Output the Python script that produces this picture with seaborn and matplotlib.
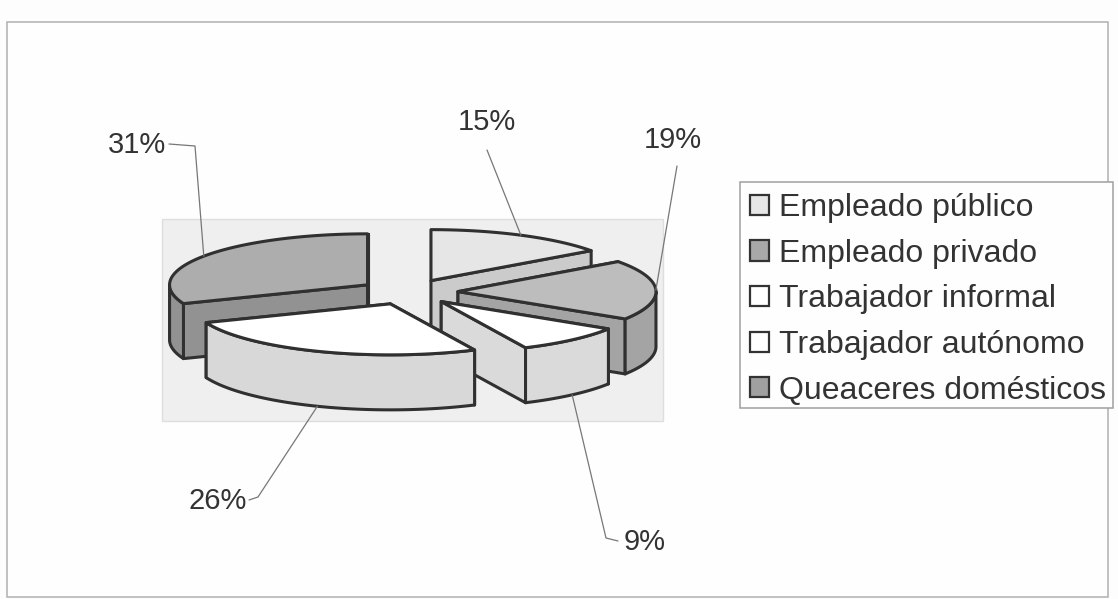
import numpy as np
import pandas as pd
import matplotlib
matplotlib.use("Agg")
import matplotlib.pyplot as plt
from matplotlib.patches import Patch, Rectangle
import seaborn as sns

# Chart values
categories = ['Empleado público', 'Empleado privado', 'Trabajador informal',
              'Trabajador autónomo', 'Queaceres domésticos']
shares = [15, 19, 9, 26, 31]

# Colours of each slice
top_colors = ['#e6e6e6', '#bdbdbd', '#ffffff', '#ffffff', '#adadad']
side_colors = ['#cbcbcb', '#a4a4a4', '#dadada', '#d8d8d8', '#929292']

# Where the percent labels sit (pixels) and how each leader line leaves them
label_x = [487, 673, 645, 218, 137]
label_y = [122, 140, 542, 501, 145]
leader_x = [487, 677, 606, 258, 195]
leader_y = [150, 166, 538, 497, 146]
leader_start_x = [487, 677, 618, 249, 169]
leader_start_y = [150, 166, 541, 500, 144]

df = pd.DataFrame({'category': categories, 'share': shares})

sns.set_theme(style="white")
plt.rcParams['font.family'] = ['Liberation Sans', 'DejaVu Sans']

# Geometry of the tilted pie
center_x, center_y = 408.5, 292
rx, ry = 198, 51
depth = 55
explode = 0.25
edge = '#303030'

fig, ax = plt.subplots(figsize=(11.18, 5.99), dpi=100)
fig.patch.set_facecolor('#fdfdfd')
ax.set_position([0, 0, 1, 1])
ax.set_xlim(0, 1118)
ax.set_ylim(599, 0)
ax.axis('off')

# Chart frame, plot wall and legend box
ax.add_patch(Rectangle((7, 22), 1101, 575, fc='#fefefe', ec='#b0b0b0', lw=1.1))
ax.add_patch(Rectangle((162, 219), 501, 202, fc='#efefef', ec='#dedede', lw=1))
ax.add_patch(Rectangle((740, 182), 373, 226, fc='#fefefe', ec='#a0a0a0', lw=1.1, zorder=3))


def rim(theta, apex_x, apex_y):
    # theta is clockwise from 12 o'clock
    return apex_x + rx * np.sin(theta), apex_y - ry * np.cos(theta)


def face(xs, ys, color, lw=2.2):
    ax.fill(xs, ys, facecolor=color, edgecolor=edge, linewidth=lw, joinstyle='round')


df['end'] = df['share'].cumsum() / df['share'].sum() * 2 * np.pi
df['start'] = df['end'].shift(fill_value=0.0)
df['mid'] = (df['start'] + df['end']) / 2
df['apex_x'] = center_x + explode * rx * np.sin(df['mid'])
df['apex_y'] = center_y - explode * ry * np.cos(df['mid'])

# Back to front, the informal slice goes behind the autonomo one
for i in [4, 0, 1, 2, 3]:
    row = df.iloc[i]
    ax_, ay_ = row['apex_x'], row['apex_y']

    # radial walls
    for t in (row['start'], row['end']):
        px, py = rim(t, ax_, ay_)
        face([ax_, px, px, ax_], [ay_, py, py + depth, ay_ + depth], side_colors[i])

    # outer wall, only the part that faces the viewer
    lo = max(row['start'], np.pi / 2)
    hi = min(row['end'], 3 * np.pi / 2)
    if hi > lo:
        t = np.linspace(lo, hi, 60)
        px, py = rim(t, ax_, ay_)
        face(np.r_[px, px[::-1]], np.r_[py, py[::-1] + depth], side_colors[i])

    # top
    t = np.linspace(row['start'], row['end'], 80)
    px, py = rim(t, ax_, ay_)
    face(np.r_[ax_, px], np.r_[ay_, py], top_colors[i])

# Leader lines and percent labels
for i, row in df.iterrows():
    px, py = rim(row['mid'], row['apex_x'], row['apex_y'])
    if np.cos(row['mid']) < -0.1:
        py = py + depth
    ax.plot([leader_start_x[i], leader_x[i], px], [leader_start_y[i], leader_y[i], py],
            color='#777777', lw=0.9, solid_joinstyle='round')
    ax.text(label_x[i], label_y[i], f"{row['share']}%", ha='center', va='center',
            fontsize=21, color='#333333')

handles = [Patch(facecolor=c, edgecolor='#333333', linewidth=1.6) for c in
           ['#e6e6e6', '#a8a8a8', '#ffffff', '#ffffff', '#a0a0a0']]
ax.legend(handles, categories, loc='upper left', bbox_to_anchor=(742, 185),
          bbox_transform=ax.transData, borderaxespad=0, frameon=False,
          fontsize=23, labelspacing=0.49, handlelength=0.6, handleheight=0.6,
          handletextpad=0.3, borderpad=0.25, labelcolor='#333333')

fig.savefig('out.png', dpi=100, facecolor=fig.get_facecolor())
